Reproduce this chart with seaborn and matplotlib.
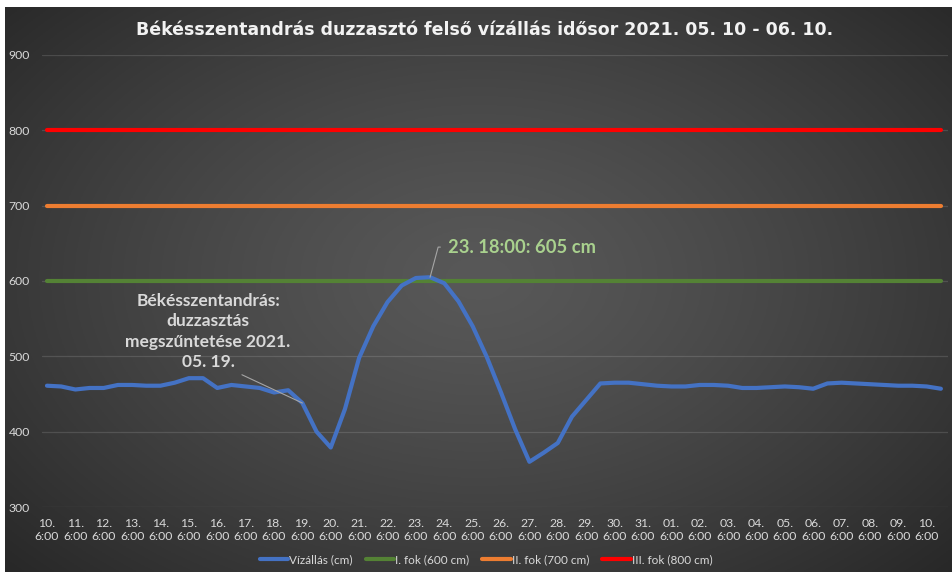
import matplotlib
matplotlib.use("Agg")
import matplotlib.pyplot as plt
import seaborn as sns
import pandas as pd
import numpy as np

sns.set_style("dark")
plt.rcParams["font.family"] = ["Lato", "DejaVu Sans"]

# half-daily readings (6:00 and 18:00), 2021.05.10 6:00 - 06.10 18:00
days = ["10", "11", "12", "13", "14", "15", "16", "17", "18", "19", "20",
        "21", "22", "23", "24", "25", "26", "27", "28", "29", "30", "31",
        "01", "02", "03", "04", "05", "06", "07", "08", "09", "10"]
water_level = [461, 460, 456, 458, 458, 462, 462, 461, 461, 465, 471, 471,
               458, 462, 460, 458, 452, 455, 438, 400, 379, 430, 498, 540,
               572, 594, 604, 605, 597, 573, 540, 499, 452, 403, 360, 372,
               385, 420, 442, 464, 465, 465, 463, 461, 460, 460, 462, 462,
               461, 458, 458, 459, 460, 459, 457, 464, 465, 464, 463, 462,
               461, 461, 460, 457]
thresholds = [600, 700, 800]
series_names = ["Vízállás (cm)", "I. fok (600 cm)", "II. fok (700 cm)", "III. fok (800 cm)"]
series_colors = ["#4472C4", "#548235", "#ED7D31", "#FF0000"]

idx = np.arange(len(water_level))
df = pd.DataFrame({"i": idx, series_names[0]: water_level})
for name, t in zip(series_names[1:], thresholds):
    df[name] = t
long_df = df.melt(id_vars="i", var_name="series", value_name="cm")

fig = plt.figure(figsize=(9.53, 5.72), dpi=100)
fig.patch.set_facecolor("white")

# radial gradient background of the chart area
bg = fig.add_axes([5 / 953, 0, 948 / 953, 565 / 572], zorder=0)
gx, gy = np.meshgrid(np.linspace(0, 1, 400), np.linspace(0, 1, 240))
d = np.sqrt(((gx - 0.5) / 0.5) ** 2 + ((gy - 0.48) / 0.55) ** 2) / np.sqrt(2)
d = np.clip(d, 0, 1) ** 1.3
c0, c1 = 0x58, 0x26
shade = (c0 + (c1 - c0) * d) / 255
bg.imshow(np.dstack([shade, shade, shade]), aspect="auto", extent=[0, 1, 0, 1])
bg.set_axis_off()

ax = fig.add_axes([42 / 953, 65 / 572, 906 / 953, 452 / 572], zorder=1)
ax.patch.set_alpha(0)

for name, color in zip(series_names[::-1], series_colors[::-1]):
    sns.lineplot(data=long_df[long_df.series == name], x="i", y="cm",
                 color=color, lw=3, ax=ax, label=name)

ax.set_xlim(-0.35, 63.5)
ax.set_ylim(300, 900)
ax.set_yticks(range(300, 901, 100))
ax.set_xticks(idx[::2])
ax.set_xticklabels([f"{d_}.\n6:00" for d_ in days], color="#d9d9d9", fontsize=8.8,
                   linespacing=1.2)
ax.tick_params(axis="y", colors="#d9d9d9", labelsize=8.8, pad=8.6, length=0)
ax.tick_params(axis="x", length=0, pad=8)
ax.grid(axis="y", color="white", alpha=0.13, lw=0.9)
ax.grid(axis="x", visible=False)
ax.set_xlabel("")
ax.set_ylabel("")
for s in ax.spines.values():
    s.set_visible(False)

ax.annotate("Békésszentandrás:\nduzzasztás\nmegszűntetése 2021.\n05. 19.",
            xy=(18, water_level[18]), xytext=(11.35, 533),
            ha="center", va="center", fontsize=12.5, fontweight="bold",
            color="#d9d9d9", linespacing=1.32,
            arrowprops=dict(arrowstyle="-", color="#a6a6a6", lw=0.8,
                            relpos=(0.64, 0), shrinkA=3, shrinkB=0))
ax.annotate("23. 18:00: 605 cm", xy=(27, water_level[27]), xytext=(28.25, 645),
            ha="left", va="center", fontsize=13.2, fontweight="bold",
            color="#a9d18e",
            arrowprops=dict(arrowstyle="-", color="#a6a6a6", lw=0.8,
                            connectionstyle="angle,angleA=180,angleB=75,rad=0",
                            shrinkA=3, shrinkB=0))

handles, labels = ax.get_legend_handles_labels()
order = [labels.index(n) for n in series_names]
leg = ax.legend([handles[k] for k in order], [labels[k] for k in order],
                loc="center", bbox_to_anchor=(486 / 953, 12 / 572),
                bbox_transform=fig.transFigure, ncol=4, frameon=False,
                fontsize=8.5, handlelength=2.4, handletextpad=0.1,
                columnspacing=1.1)
for t in leg.get_texts():
    t.set_color("#d9d9d9")

fig.text(485 / 953, 1 - 30 / 572,
         "Békésszentandrás duzzasztó felső vízállás idősor 2021. 05. 10 - 06. 10.",
         ha="center", va="center", fontsize=12.5, fontweight="bold",
         color="#f2f2f2", family="DejaVu Sans")

fig.savefig("out.png", dpi=100)
